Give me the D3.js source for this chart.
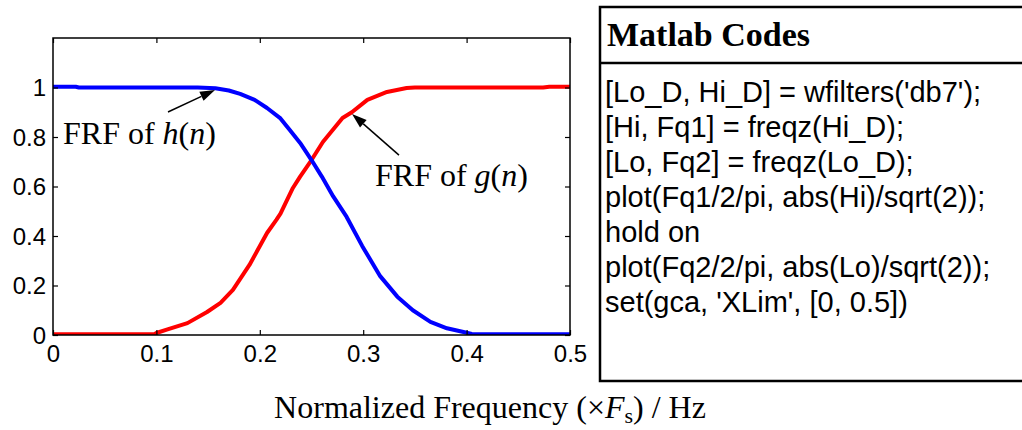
<!DOCTYPE html>
<html>
<head>
<meta charset="utf-8">
<script src="https://cdn.jsdelivr.net/npm/d3@7"></script>
<style>
  body { margin: 0; background: #fff; }
  svg { display: block; }
  .serif { font-family: "Liberation Serif", "Times New Roman", serif; fill: #000; }
  .code { font-family: "Liberation Sans", Arial, sans-serif; font-size: 29px; fill: #000; }
</style>
</head>
<body>
<div id="chart"></div>
<script>
// frequency response
var freqH = [0, 0.022, 0.025, 0.14, 0.157, 0.17, 0.181, 0.195, 0.207, 0.22, 0.229, 0.239, 0.25,
             0.26, 0.271, 0.284, 0.299, 0.316, 0.333, 0.348, 0.365, 0.381, 0.397, 0.405, 0.41, 0.5],
    magH  = [1.003, 1.003, 1.0, 1.0, 0.997, 0.988, 0.974, 0.95, 0.917, 0.875, 0.828, 0.776, 0.707,
             0.64, 0.56, 0.477, 0.36, 0.24, 0.155, 0.1, 0.053, 0.027, 0.012, 0.004, 0.003, 0.003];
var freqG = [0, 0.098, 0.1, 0.11, 0.13, 0.149, 0.162, 0.174, 0.19, 0.207, 0.216, 0.22, 0.232, 0.239,
             0.25, 0.261, 0.28, 0.289, 0.304, 0.323, 0.342, 0.35, 0.474, 0.48, 0.5],
    magG  = [0.003, 0.003, 0.008, 0.022, 0.048, 0.093, 0.13, 0.182, 0.283, 0.412, 0.465, 0.49, 0.594, 0.64,
             0.707, 0.78, 0.877, 0.9, 0.95, 0.982, 0.998, 1.0, 1.0, 1.003, 1.003];

var xTicks = [0, 0.1, 0.2, 0.3, 0.4, 0.5],
    yTicks = [0, 0.2, 0.4, 0.6, 0.8, 1];

var codeLines = [
  "[Lo_D, Hi_D] = wfilters('db7');",
  "[Hi, Fq1] = freqz(Hi_D);",
  "[Lo, Fq2] = freqz(Lo_D);",
  "plot(Fq1/2/pi, abs(Hi)/sqrt(2));",
  "hold on",
  "plot(Fq2/2/pi, abs(Lo)/sqrt(2));",
  "set(gca, 'XLim', [0, 0.5])"
];

var W = 1022, H = 430,
    plot = {left: 53, right: 570, top: 38, bottom: 335};

var svg = d3.select("#chart").append("svg").attr("width", W).attr("height", H);

var x = d3.scaleLinear().domain([0, 0.5]).range([plot.left, plot.right]),
    y = d3.scaleLinear().domain([0, 1.2]).range([plot.bottom, plot.top]);

svg.append("defs").append("clipPath").attr("id", "clip")
  .append("rect").attr("x", plot.left).attr("y", plot.top)
  .attr("width", plot.right - plot.left).attr("height", plot.bottom - plot.top);

var line = d3.line()
    .x(function(d) { return x(d[0]); })
    .y(function(d) { return y(d[1]); });

var g = svg.append("g").attr("clip-path", "url(#clip)");

g.append("path")
  .datum(d3.zip(freqG, magG))
  .attr("d", line)
  .attr("fill", "none").attr("stroke", "#ff0000").attr("stroke-width", 4)
  .attr("stroke-linejoin", "round");

g.append("path")
  .datum(d3.zip(freqH, magH))
  .attr("d", line)
  .attr("fill", "none").attr("stroke", "#0000ff").attr("stroke-width", 4)
  .attr("stroke-linejoin", "round");

// axes, matlab style box with inward ticks on every side
var xAxis = svg.append("g")
  .attr("transform", "translate(0," + plot.bottom + ")")
  .call(d3.axisBottom(x).tickValues(xTicks).tickSize(-5).tickPadding(10)
        .tickFormat(d3.format("~g")));
svg.append("g")
  .attr("transform", "translate(0," + plot.top + ")")
  .call(d3.axisTop(x).tickValues(xTicks).tickSize(-5).tickFormat(""));
var yAxis = svg.append("g")
  .attr("transform", "translate(" + plot.left + ",0)")
  .call(d3.axisLeft(y).tickValues(yTicks).tickSize(-5).tickPadding(7)
        .tickFormat(d3.format("~g")));
svg.append("g")
  .attr("transform", "translate(" + plot.right + ",0)")
  .call(d3.axisRight(y).tickValues(yTicks).tickSize(-5).tickFormat(""));

svg.selectAll(".domain").remove();
svg.selectAll(".tick line").attr("stroke", "#000").attr("stroke-width", 1.2);
[xAxis, yAxis].forEach(function(a) {
  a.attr("font-size", 24).attr("font-family", "'Liberation Sans', Arial, sans-serif");
  a.selectAll(".tick text").attr("fill", "#000").attr("font-size", 24);
});
xAxis.selectAll(".tick text").attr("dy", "0.71em");
yAxis.selectAll(".tick text").attr("dy", "0.35em");

svg.append("rect")
  .attr("x", plot.left).attr("y", plot.top)
  .attr("width", plot.right - plot.left).attr("height", plot.bottom - plot.top)
  .attr("fill", "none").attr("stroke", "#000").attr("stroke-width", 1.5);

// annotations
var arrows = [
  {from: [0.1112, 0.901], to: [0.1567, 0.99]},
  {from: [0.3346, 0.727], to: [0.2892, 0.893]}
];
arrows.forEach(function(a) {
  var x0 = x(a.from[0]), y0 = y(a.from[1]), x1 = x(a.to[0]), y1 = y(a.to[1]);
  var ang = Math.atan2(y1 - y0, x1 - x0), len = 15, half = 5;
  var bx = x1 - len * Math.cos(ang), by = y1 - len * Math.sin(ang);
  svg.append("line").attr("x1", x0).attr("y1", y0).attr("x2", bx).attr("y2", by)
    .attr("stroke", "#000").attr("stroke-width", 1.5);
  svg.append("path")
    .attr("d", "M" + x1 + "," + y1 +
               "L" + (bx + half * Math.sin(ang)) + "," + (by - half * Math.cos(ang)) +
               "L" + (bx - half * Math.sin(ang)) + "," + (by + half * Math.cos(ang)) + "Z")
    .attr("fill", "#000");
});

var labels = [
  {pos: [0.0097, 0.772], fn: "h"},
  {pos: [0.3114, 0.602], fn: "g"}
];
labels.forEach(function(l) {
  var t = svg.append("text").attr("class", "serif").attr("font-size", 32)
    .attr("x", x(l.pos[0])).attr("y", y(l.pos[1]));
  t.append("tspan").text("FRF of ");
  t.append("tspan").attr("font-style", "italic").text(l.fn);
  t.append("tspan").text("(");
  t.append("tspan").attr("font-style", "italic").text("n");
  t.append("tspan").text(")");
});

// x label
var xl = svg.append("text").attr("class", "serif").attr("font-size", 32)
  .attr("x", 490).attr("y", 418).attr("text-anchor", "middle");
xl.append("tspan").text("Normalized Frequency (\u00d7");
xl.append("tspan").attr("font-style", "italic").text("F");
xl.append("tspan").attr("font-size", 22).attr("dy", 5).text("s");
xl.append("tspan").attr("dy", -5).text(") / Hz");

// code box
var box = {left: 600, top: 7, divider: 63, bottom: 381};
svg.append("path")
  .attr("d", "M" + (W + 5) + "," + box.top + "H" + box.left + "V" + box.bottom + "H" + (W + 5) +
             "M" + box.left + "," + box.divider + "H" + (W + 5))
  .attr("fill", "none").attr("stroke", "#000").attr("stroke-width", 2.5);

svg.append("text").attr("class", "serif").attr("font-size", 34).attr("font-weight", "bold")
  .attr("x", 607).attr("y", 46).text("Matlab Codes");

svg.selectAll(".code").data(codeLines).enter().append("text")
  .attr("class", "code")
  .attr("x", 605)
  .attr("y", function(d, i) { return 102 + i * 35; })
  .text(function(d) { return d; });
</script>
</body>
</html>
